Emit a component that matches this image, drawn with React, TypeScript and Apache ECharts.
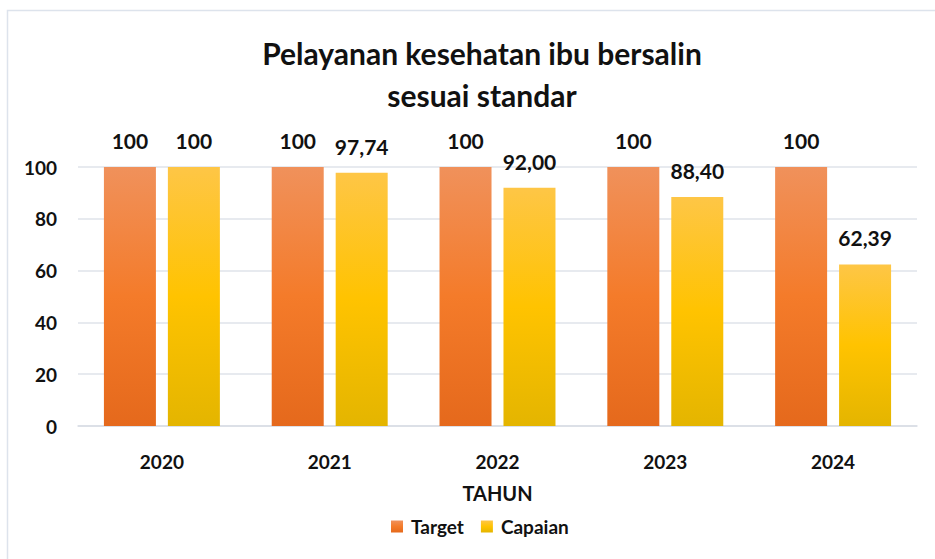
import React, { useEffect, useRef } from "react";
import * as echarts from "echarts";

const categories = ["2020", "2021", "2022", "2023", "2024"];
const targetValues = [100, 100, 100, 100, 100];
const capaianValues = [100, 97.74, 92.0, 88.4, 62.39];
const yTicks = { min: 0, max: 100, interval: 20 };

const FONT = "Lato";

function fmt(v: number): string {
  if (v === 100) return "100";
  return v.toFixed(2).replace(".", ",");
}

export default function App() {
  const ref = useRef<HTMLDivElement>(null);
  useEffect(() => {
    if (!ref.current) return;
    const chart = echarts.init(ref.current, undefined, { renderer: "svg" });
    const orangeGrad = new echarts.graphic.LinearGradient(0, 0, 0, 1, [
      { offset: 0, color: "#f0915b" },
      { offset: 0.5, color: "#f47b2a" },
      { offset: 1, color: "#e5691c" },
    ]);
    const yellowGrad = new echarts.graphic.LinearGradient(0, 0, 0, 1, [
      { offset: 0, color: "#fec646" },
      { offset: 0.5, color: "#ffc300" },
      { offset: 1, color: "#e4b500" },
    ]);
    const labelStyle = {
      show: true,
      position: "top" as const,
      distance: 16,
      fontFamily: FONT,
      fontWeight: "bold" as const,
      fontSize: 21,
      color: "#111",
      formatter: (p: any) => fmt(p.value),
    };
    chart.setOption({
      animation: false,
      backgroundColor: "#fff",
      graphic: [
        {
          type: "rect",
          shape: { x: 7.5, y: 10.5, width: 940, height: 560 },
          style: { fill: "none", stroke: "#dde3ec", lineWidth: 1.5 },
          silent: true,
        },
      ],
      title: {
        text: "Pelayanan kesehatan ibu bersalin\nsesuai standar",
        left: 477,
        textAlign: "center",
        top: 27,
        textStyle: {
          fontFamily: FONT,
          fontSize: 30,
          fontWeight: "bold",
          color: "#111",
          lineHeight: 42,
        },
      },
      legend: {
        data: ["Target", "Capaian"],
        bottom: 18,
        left: 386,
        itemWidth: 12,
        itemHeight: 12,
        itemGap: 17,
        icon: "rect",
        textStyle: {
          fontFamily: FONT,
          fontWeight: "bold",
          fontSize: 19,
          color: "#111",
          padding: [0, 0, 0, 3],
        },
      },
      grid: { left: 78, right: 18, top: 167, bottom: 133 },
      xAxis: {
        type: "category",
        data: categories,
        name: "TAHUN",
        nameLocation: "middle",
        nameGap: 57,
        nameTextStyle: {
          fontFamily: FONT,
          fontWeight: "bold",
          fontSize: 20,
          color: "#111",
        },
        axisLine: { lineStyle: { color: "#d9dde5", width: 1.5 } },
        axisTick: { show: false },
        axisLabel: {
          margin: 26,
          fontFamily: FONT,
          fontWeight: "bold",
          fontSize: 19,
          color: "#111",
        },
      },
      yAxis: {
        type: "value",
        min: yTicks.min,
        max: yTicks.max,
        interval: yTicks.interval,
        axisLine: { show: false },
        axisTick: { show: false },
        splitLine: { lineStyle: { color: "#dfe3ea", width: 1.5 } },
        axisLabel: {
          margin: 21,
          fontFamily: FONT,
          fontWeight: "bold",
          fontSize: 19,
          color: "#111",
        },
      },
      series: [
        {
          name: "Target",
          type: "bar",
          data: targetValues,
          barWidth: 52,
          barGap: "23%",
          itemStyle: { color: orangeGrad },
          label: labelStyle,
        },
        {
          name: "Capaian",
          type: "bar",
          data: capaianValues,
          barWidth: 52,
          barGap: "23%",
          itemStyle: { color: yellowGrad },
          label: labelStyle,
        },
      ],
    });
    return () => chart.dispose();
  }, []);
  return (
    <div
      ref={ref}
      style={{ position: "fixed", left: 0, top: 0, width: 935, height: 559 }}
    />
  );
}
